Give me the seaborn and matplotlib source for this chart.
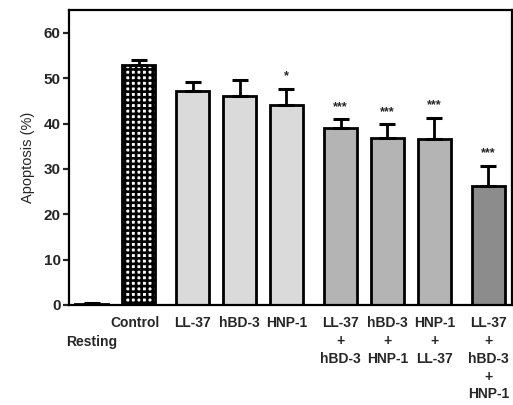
import numpy as np
import pandas as pd
import matplotlib
matplotlib.use("Agg")
import matplotlib.pyplot as plt
import matplotlib.transforms as mtransforms
import seaborn as sns

# ---- data ----
labels = ["Resting", "Control", "LL-37", "hBD-3", "HNP-1",
          "LL-37\n+\nhBD-3", "hBD-3\n+\nHNP-1", "HNP-1\n+\nLL-37",
          "LL-37\n+\nhBD-3\n+\nHNP-1"]
names = ["Resting", "Control", "LL-37", "hBD-3", "HNP-1",
         "LL-37+hBD-3", "hBD-3+HNP-1", "HNP-1+LL-37", "LL-37+hBD-3+HNP-1"]
positions = [0, 1, 2.15, 3.15, 4.15, 5.3, 6.3, 7.3, 8.45]
values = [0.3, 52.9, 47.2, 46.1, 44.1, 39.0, 36.8, 36.5, 26.2]
errors = [0.2, 1.2, 1.9, 3.5, 3.5, 1.9, 3.0, 4.7, 4.4]
stars = ["", "", "", "", "*", "***", "***", "***", "***"]
colors = ["white", "white", "#dadada", "#dadada", "#dadada",
          "#b4b4b4", "#b4b4b4", "#b4b4b4", "#8c8c8c"]
yticks = [0, 10, 20, 30, 40, 50, 60]

sns.set_style("ticks")
plt.rcParams["font.family"] = ["Liberation Sans", "DejaVu Sans"]
plt.rcParams["hatch.linewidth"] = 1.9

df = pd.DataFrame({"pos": positions, "val": values, "name": names})

fig = plt.figure(figsize=(5.13, 4.05), dpi=100)
ax = fig.add_axes([0.1345, 0.247, 0.8635, 0.728])

sns.barplot(data=df, x="pos", y="val", hue="name",
            palette=dict(zip(names, colors)), native_scale=True,
            width=0.7, dodge=False, legend=False, errorbar=None,
            edgecolor="black", linewidth=2.0, ax=ax)

# hatch control bar
for p in ax.patches:
    cx = p.get_x() + p.get_width() / 2
    if abs(cx - positions[1]) < 0.1:
        p.set_hatch("+++")

ax.errorbar(positions, values, yerr=[np.zeros(len(errors)), errors],
            fmt="none", ecolor="black", elinewidth=2.0, capsize=6,
            capthick=2.2, zorder=5)

for x, v, e, s in zip(positions, values, errors, stars):
    if s:
        ax.text(x, v + e + 2.8, s, ha="center", va="center",
                fontsize=9, fontweight="bold")

ax.set_xlim(-0.48, 8.95)
ax.set_ylim(0, 65)
ax.set_yticks(yticks)
ax.set_yticklabels([str(t) for t in yticks], fontsize=11, fontweight="bold")
ax.set_xticks(positions)
ax.set_xticklabels(labels, fontsize=10, fontweight="bold", linespacing=1.35)
ax.tick_params(axis="x", length=0, pad=8)
ax.tick_params(axis="y", length=4, width=1.6, pad=2)
# shift "Resting" one line down, "Control" slightly left, as in the reference
tls = ax.get_xticklabels()
tls[0].set_transform(tls[0].get_transform() +
                     mtransforms.ScaledTranslation(0, -0.19, fig.dpi_scale_trans))
tls[1].set_transform(tls[1].get_transform() +
                     mtransforms.ScaledTranslation(-0.04, 0, fig.dpi_scale_trans))
ax.set_xlabel("")
ax.set_ylabel("Apoptosis (%)", fontsize=10.5, labelpad=6)
for sp in ax.spines.values():
    sp.set_visible(True)
    sp.set_linewidth(1.6)
    sp.set_color("black")

fig.savefig("out.png", dpi=100)
